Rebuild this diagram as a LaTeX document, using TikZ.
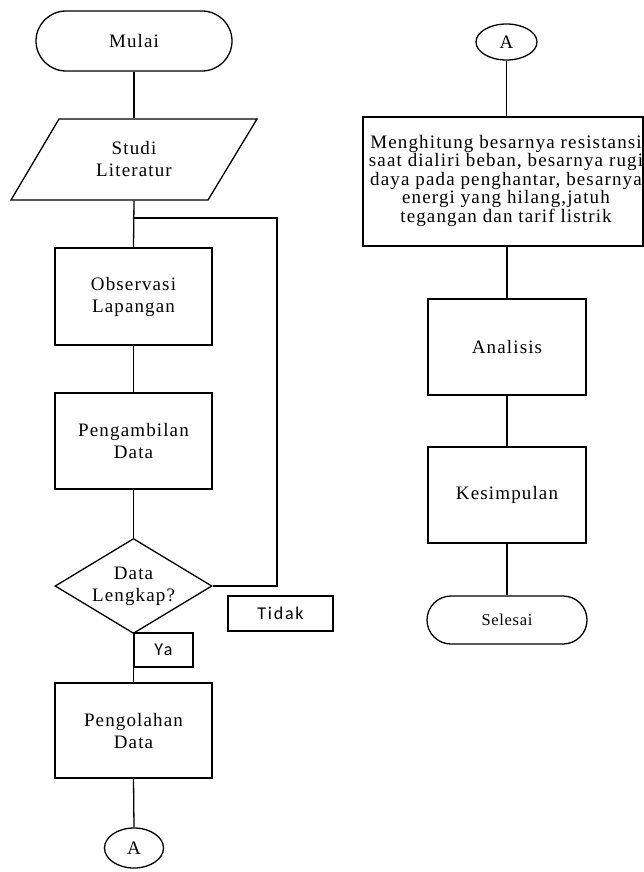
\documentclass[tikz,border=0pt]{standalone}
\usepackage{fontspec}
\setmainfont{Liberation Serif}[LetterSpace=6]
\newfontfamily\labfont{Carlito}[LetterSpace=10]
\usetikzlibrary{shapes.geometric}
\begin{document}
\begin{tikzpicture}[x=1pt,y=-1pt,line width=1.3pt,
  txt/.style={font=\fontsize{19}{22}\selectfont,align=center,inner sep=0pt},
  procbox/.style={txt,draw,minimum width=157pt,minimum height=96pt},
  termbox/.style={txt,draw,rounded corners=#1},
  conn/.style={txt,draw,ellipse,minimum width=60pt,minimum height=37pt},
  labbox/.style={draw,inner sep=0pt,font=\labfont\fontsize{18}{20}\selectfont}]
\useasboundingbox (0,0) rectangle (644,872);
% left column
\node[termbox=30pt,minimum width=196pt,minimum height=60pt] (mulai) at (134,41) {Mulai};
\node[txt,minimum width=150pt,minimum height=81pt] (studi) at (134,159.5) {Studi\\Literatur};
\draw (59,119) -- (257,119) -- (208,200) -- (11,200) -- cycle;
\node[procbox,minimum height=97pt] (obs) at (133.5,296.5) {Observasi\\Lapangan};
\node[procbox] (ambil) at (133.5,441) {Pengambilan\\Data};
\node[txt,draw,diamond,aspect=1.65,minimum width=157pt,minimum height=95pt] (dec) at (133.5,586) {Data\\Lengkap?};
\node[labbox,minimum width=105pt,minimum height=35pt] (tidak) at (280.5,613.5) {Tidak};
\node[labbox,minimum width=59pt,minimum height=34pt] (ya) at (163.5,650) {Ya};
\node[procbox,minimum height=95pt] (olah) at (133.5,730.5) {Pengolahan\\Data};
\node[conn,minimum width=59pt,minimum height=40pt] (a1) at (134,848) {A};
% right column
\node[conn,minimum width=61pt,minimum height=36pt] (a2) at (506.5,42) {A};
\node[draw,inner sep=0pt,minimum width=280pt,minimum height=129pt] (hitung) at (503,181.5)
  {\makebox[280pt]{\hspace{6pt}\fontsize{19}{17.7}\selectfont\begin{tabular}{@{}c@{}}Menghitung besarnya resistansi\\saat dialiri beban, besarnya rugi\\daya pada penghantar, besarnya\\energi yang hilang,jatuh\\tegangan dan tarif listrik\end{tabular}}};
\node[procbox,minimum width=158pt] (anal) at (507,347) {Analisis};
\node[procbox,minimum width=158pt] (kes) at (507,495) {Kesimpulan};
\node[termbox=24pt,minimum width=160pt,minimum height=48pt,font=\addfontfeatures{LetterSpace=4}\fontsize{16.5}{18}\selectfont] (selesai) at (507,620) {Selesai};
% connectors
\coordinate (br) at (133.5,218);
\coordinate (rt) at (277,218);
\draw (mulai.south) -- (studi.north);
\draw (studi.south) -- (obs.north);
\draw (br) -- (rt) |- (dec.east);
\draw (obs.south) -- (ambil.north);
\draw (ambil.south) -- (dec.north);
\draw (dec.south) -- (olah.north);
\draw (olah.south) -- (a1.north);
\draw (a2.south) -- (a2.south |- hitung.north);
\draw (anal.north |- hitung.south) -- (anal.north);
\draw (anal.south) -- (kes.north);
\draw (kes.south) -- (selesai.north);
\end{tikzpicture}
\end{document}
